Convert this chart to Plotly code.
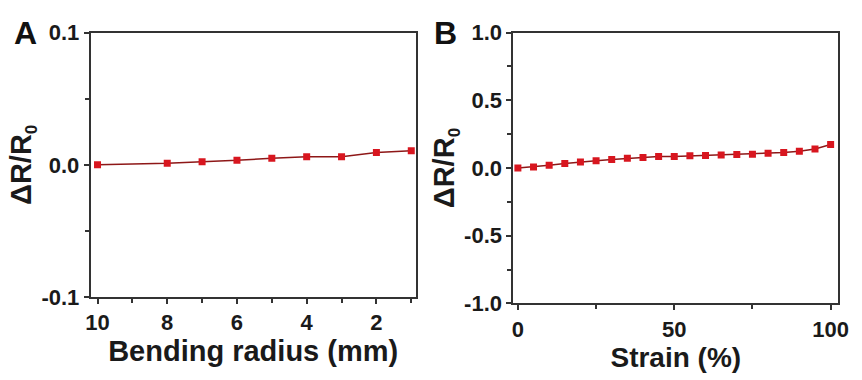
import plotly.graph_objects as go

# Panel A data
radius_mm = [10, 8, 7, 6, 5, 4, 3, 2, 1]
dr_bend = [0.0, 0.0012, 0.0024, 0.0034, 0.005, 0.0061, 0.0061, 0.0093, 0.0106]
ytick_a_vals = [-0.1, 0.0, 0.1]
ytick_a_text = ["-0.1", "0.0", "0.1"]

# Panel B data
strain_pct = [0, 5, 10, 15, 20, 25, 30, 35, 40, 45, 50, 55, 60, 65, 70, 75, 80, 85, 90, 95, 100]
dr_strain = [0.0, 0.008, 0.02, 0.033, 0.045, 0.054, 0.063, 0.072, 0.078, 0.085, 0.086,
             0.09, 0.093, 0.097, 0.1, 0.102, 0.109, 0.114, 0.124, 0.14, 0.173]
ytick_b_vals = [-1.0, -0.5, 0.0, 0.5, 1.0]
ytick_b_text = ["-1.0", "-0.5", "0.0", "0.5", "1.0"]

FONT = "Liberation Sans, Arial, sans-serif"
RED = "#d8161f"
LINE = "#8e1717"
TXT = "#1a1a1a"
W, H = 862, 380
YTITLE = "ΔR/R<sub><span style='font-size:17px'>0</span></sub>"

fig = go.Figure()
fig.add_trace(go.Scatter(x=radius_mm, y=dr_bend, mode="lines+markers",
                         line=dict(color=LINE, width=1.5),
                         marker=dict(symbol="square", size=7, color=RED),
                         xaxis="x", yaxis="y", showlegend=False))
fig.add_trace(go.Scatter(x=strain_pct, y=dr_strain, mode="lines+markers",
                         line=dict(color=LINE, width=1.5),
                         marker=dict(symbol="square", size=7, color=RED),
                         xaxis="x2", yaxis="y2", showlegend=False))

tickfont = dict(family=FONT, size=22, color=TXT, weight="bold")
titlefont = dict(family=FONT, size=29, color=TXT, weight="bold")

common = dict(showline=True, linecolor="#333", linewidth=1.6, mirror=True,
              ticks="outside", ticklen=5, tickwidth=1.5, tickcolor="#333",
              showgrid=False, zeroline=False, tickfont=tickfont)
minor_common = dict(ticklen=4, tickcolor="#333", ticks="outside")

fig.update_layout(
    width=W, height=H, margin=dict(l=0, r=0, t=0, b=0),
    paper_bgcolor="white", plot_bgcolor="white",
    xaxis=dict(domain=[0.101, 0.485], anchor="y", range=[10.2, 0.87],
               tickmode="linear", tick0=0, dtick=2,
               minor=dict(dtick=1, tick0=0, **minor_common),
               title=dict(text="Bending radius (mm)", font=titlefont, standoff=2),
               **common),
    yaxis=dict(domain=[0.197, 0.942], anchor="x", range=[-0.1, 0.1],
               tickmode="array", tickvals=ytick_a_vals, ticktext=ytick_a_text,
               minor=dict(tickvals=[-0.05, 0.05], **minor_common),
               title=dict(text=YTITLE, font=titlefont, standoff=1),
               **common),
    xaxis2=dict(domain=[0.600, 0.984], anchor="y2", range=[-1.5, 102.5],
                tickmode="linear", tick0=0, dtick=50,
                minor=dict(dtick=25, tick0=0, **minor_common),
                title=dict(text="Strain (%)", font=dict(titlefont, size=28), standoff=4),
                **common),
    yaxis2=dict(domain=[0.179, 0.942], anchor="x2", range=[-1.0, 1.0],
                tickmode="array", tickvals=ytick_b_vals, ticktext=ytick_b_text,
                minor=dict(tickvals=[-0.75, -0.25, 0.25, 0.75], **minor_common),
                title=dict(text=YTITLE, font=titlefont, standoff=1),
                **common),
    annotations=[
        dict(text="A", x=21 / W, y=1 - 22 / H, xref="paper", yref="paper",
             xanchor="center", yanchor="middle", showarrow=False,
             font=dict(family=FONT, size=32, color="#111", weight="bold")),
        dict(text="B", x=448 / W, y=1 - 22 / H, xref="paper", yref="paper",
             xanchor="center", yanchor="middle", showarrow=False,
             font=dict(family=FONT, size=32, color="#111", weight="bold")),
    ],
)

fig.write_html("out.html")
